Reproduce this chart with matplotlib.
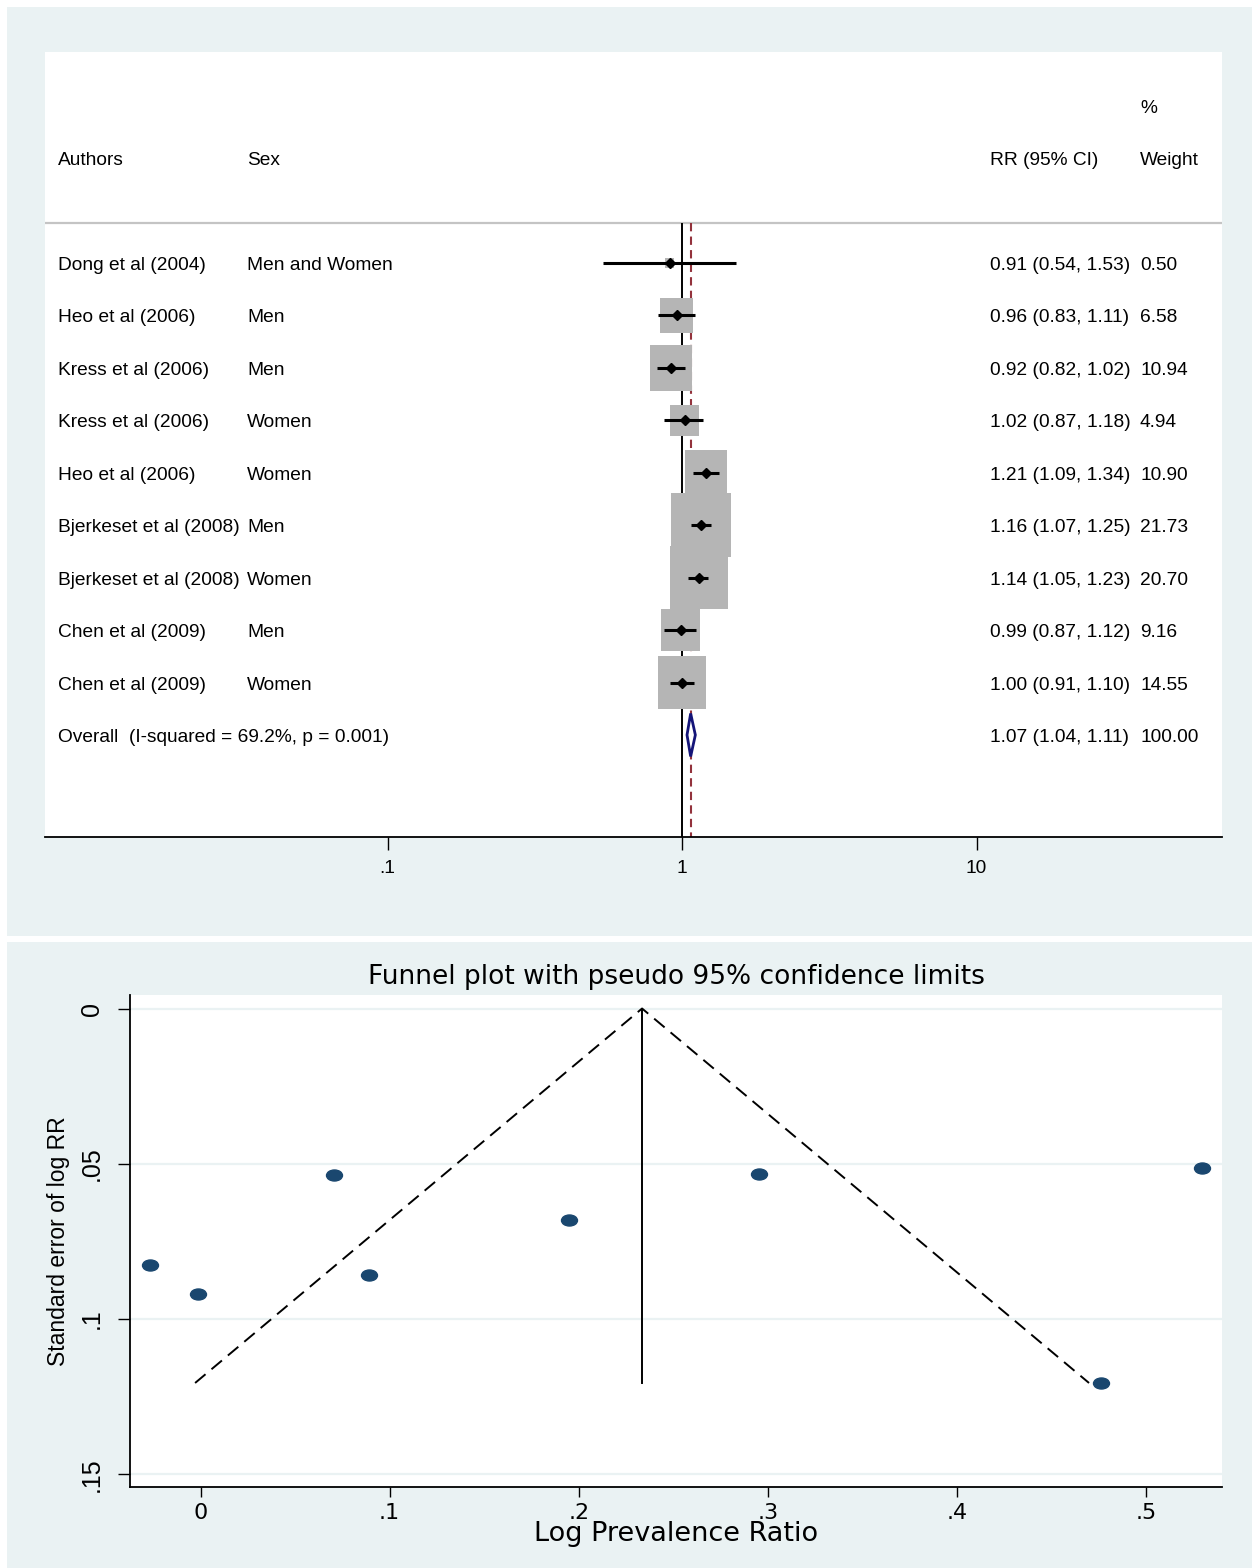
import numpy as np
import matplotlib
matplotlib.use("Agg")
import matplotlib.pyplot as plt
from matplotlib.patches import Rectangle, Polygon
from matplotlib.path import Path
from matplotlib.transforms import Affine2D, blended_transform_factory
from matplotlib.ticker import NullLocator

plt.rcParams['font.family'] = ['Liberation Sans', 'DejaVu Sans']

# ---------------- data: forest plot ----------------
authors = ["Dong et al (2004)", "Heo et al (2006)", "Kress et al (2006)",
           "Kress et al (2006)", "Heo et al (2006)", "Bjerkeset et al (2008)",
           "Bjerkeset et al (2008)", "Chen et al (2009)", "Chen et al (2009)"]
sexes = ["Men and Women", "Men", "Men", "Women", "Women", "Men", "Women",
         "Men", "Women"]
rr = [0.91, 0.96, 0.92, 1.02, 1.21, 1.16, 1.14, 0.99, 1.00]
rr_lo = [0.54, 0.83, 0.82, 0.87, 1.09, 1.07, 1.05, 0.87, 0.91]
rr_hi = [1.53, 1.11, 1.02, 1.18, 1.34, 1.25, 1.23, 1.12, 1.10]
weights = [0.50, 6.58, 10.94, 4.94, 10.90, 21.73, 20.70, 9.16, 14.55]
overall_label = "Overall  (I-squared = 69.2%, p = 0.001)"
overall_est, overall_lo, overall_hi = 1.07, 1.04, 1.11
forest_ticks = [0.1, 1, 10]
forest_ticklabels = [".1", "1", "10"]

# ---------------- data: funnel plot ----------------
funnel_x = [-0.0267, -0.0013, 0.0706, 0.0893, 0.1949, 0.2954, 0.5296, 0.4764]
funnel_se = [0.0825, 0.0918, 0.0536, 0.0858, 0.0680, 0.0533, 0.0515, 0.1206]
pooled = 0.2335
se_max = 0.1206
funnel_xticks = [0, 0.1, 0.2, 0.3, 0.4, 0.5]
funnel_xticklabels = ["0", ".1", ".2", ".3", ".4", ".5"]
funnel_yticks = [0, 0.05, 0.10, 0.15]
funnel_yticklabels = ["0", ".05", ".1", ".15"]

# ---------------- layout ----------------
W, H = 1257, 1568
BG = '#eaf2f3'
fig = plt.figure(figsize=(W / 100, H / 100), dpi=100)
fig.patch.set_facecolor('white')
fig.add_artist(Rectangle((7 / W, 1 - 936 / H), 1245 / W, 929 / H,
                         transform=fig.transFigure, facecolor=BG,
                         edgecolor='none', zorder=0))
fig.add_artist(Rectangle((7 / W, 0), 1245 / W, 1 - 942 / H,
                         transform=fig.transFigure, facecolor=BG,
                         edgecolor='none', zorder=0))

# ================= forest plot =================
ax1 = fig.add_axes([45 / W, 1 - 837 / H, 1177 / W, 785 / H])
ax1.set_facecolor('white')
ONE_PX, DEC_PX = 682.0, 294.5
ROW0, ROW_PX = 263.0, 52.44
ax1.set_xscale('log')
ax1.set_xlim(10 ** ((45 - ONE_PX) / DEC_PX), 10 ** ((1222 - ONE_PX) / DEC_PX))
ybot = (837 - ROW0) / ROW_PX
ytop = (52 - ROW0) / ROW_PX
ax1.set_ylim(ybot, ytop)
for s in ['top', 'left', 'right']:
    ax1.spines[s].set_visible(False)
ax1.spines['bottom'].set_linewidth(1.3)
ax1.set_yticks([])
ax1.set_xticks(forest_ticks)
ax1.set_xticklabels(forest_ticklabels)
ax1.xaxis.set_minor_locator(NullLocator())
ax1.tick_params(axis='x', length=9.4, width=1.0, pad=7, labelsize=13.8)

hline_y = (222.5 - ROW0) / ROW_PX
ax1.axhline(hline_y, color='#c4c4c4', lw=1.6, zorder=1)
ax1.vlines(1, hline_y, ybot, color='black', lw=1.4, zorder=1)
ax1.vlines(overall_est, hline_y, ybot, color='#93323c', lw=1.5,
           linestyles=[(0, (4, 2.5))], zorder=1)

rows = np.arange(len(rr))
for i, (r, w) in enumerate(zip(rr, weights)):
    hw = 12.7 * np.sqrt(w) / 2 / DEC_PX
    hh = 13.8 * np.sqrt(w) / 2 / ROW_PX
    x0 = r * 10 ** (-hw)
    x1 = r * 10 ** (hw)
    ax1.add_patch(Rectangle((x0, i - hh), x1 - x0, 2 * hh,
                            facecolor='#b5b5b5', edgecolor='none', zorder=2))
ax1.hlines(rows, rr_lo, rr_hi, color='black', lw=2.2, zorder=3)
ax1.plot(rr, rows, 'D', color='black', ms=5.5, zorder=4)

orow = len(rr)
hd = 21.5 / ROW_PX
ax1.add_patch(Polygon([(overall_lo, orow), (overall_est, orow - hd),
                       (overall_hi, orow), (overall_est, orow + hd)],
                      closed=True, facecolor='white', edgecolor='#141478',
                      lw=2.0, zorder=3))

tr = blended_transform_factory(ax1.transAxes, ax1.transData)
cx_auth = (58 - 45) / 1177
cx_sex = (247 - 45) / 1177
cx_rr = (990 - 45) / 1177
cx_wt = (1140 - 45) / 1177
fs = 13.8
dy = 2.5 / ROW_PX  # small downward shift of text centres
hdr = (158 - ROW0) / ROW_PX + dy
pct = (106 - ROW0) / ROW_PX + dy
ax1.text(cx_auth, hdr, "Authors", transform=tr, fontsize=fs, va='center')
ax1.text(cx_sex, hdr, "Sex", transform=tr, fontsize=fs, va='center')
ax1.text(cx_rr, hdr, "RR (95% CI)", transform=tr, fontsize=fs, va='center')
ax1.text(cx_wt, hdr, "Weight", transform=tr, fontsize=fs, va='center')
ax1.text(cx_wt, pct, "%", transform=tr, fontsize=fs, va='center')
for i in rows:
    ax1.text(cx_auth, i + dy, authors[i], transform=tr, fontsize=fs, va='center')
    ax1.text(cx_sex, i + dy, sexes[i], transform=tr, fontsize=fs, va='center')
    ax1.text(cx_rr, i + dy, f"{rr[i]:.2f} ({rr_lo[i]:.2f}, {rr_hi[i]:.2f})",
             transform=tr, fontsize=fs, va='center')
    ax1.text(cx_wt, i + dy, f"{weights[i]:.2f}", transform=tr, fontsize=fs,
             va='center')
ax1.text(cx_auth, orow + dy, overall_label, transform=tr, fontsize=fs, va='center')
ax1.text(cx_rr, orow + dy, f"{overall_est:.2f} ({overall_lo:.2f}, {overall_hi:.2f})",
         transform=tr, fontsize=fs, va='center')
ax1.text(cx_wt, orow + dy, "100.00", transform=tr, fontsize=fs, va='center')

# ================= funnel plot =================
NARROW = ['Liberation Sans Narrow', 'Liberation Sans', 'DejaVu Sans']
WIDE = ['DejaVu Sans']
ax2 = fig.add_axes([130 / W, 1 - 1487 / H, 1092 / W, 492 / H])
ax2.set_facecolor('white')
ax2.set_xlim(-0.0373, 0.5402)
ax2.set_ylim(0.1541, -0.00435)
for s in ['top', 'right']:
    ax2.spines[s].set_visible(False)
for s in ['left', 'bottom']:
    ax2.spines[s].set_linewidth(1.3)
ax2.set_yticks(funnel_yticks)
ax2.set_yticklabels(funnel_yticklabels, rotation=90, va='center',
                    family=NARROW, fontsize=18)
ax2.set_xticks(funnel_xticks)
ax2.set_xticklabels(funnel_xticklabels, family=WIDE, fontsize=16)
ax2.tick_params(axis='y', length=8.6, width=1.0, pad=10)
ax2.tick_params(axis='x', length=7.2, width=1.0, pad=4)
ax2.yaxis.grid(True, color=BG, lw=1.6)
ax2.set_axisbelow(True)

ax2.plot([pooled, pooled], [0, se_max], color='black', lw=1.4, zorder=2)
ax2.plot([pooled - 1.96 * se_max, pooled, pooled + 1.96 * se_max],
         [se_max, 0, se_max], color='black', lw=1.4,
         linestyle=(0, (7, 4)), zorder=2)

ell = Path.unit_circle().transformed(Affine2D().scale(1.45, 1.0))
ax2.plot(funnel_x, funnel_se, linestyle='none', marker=ell, ms=11.5,
         color='#1a476f', zorder=3)

ax2.set_ylabel("Standard error of log RR", family=NARROW, fontsize=16.5,
               va='center')
ax2.yaxis.set_label_coords((58 - 130) / 1092, 0.5)
ax2.set_xlabel("Log Prevalence Ratio", family=WIDE, fontsize=19.5, va='center')
ax2.xaxis.set_label_coords(0.5, (1487 - 1534) / 492)
ax2.text(0.5, (1487 - 977) / 492, "Funnel plot with pseudo 95% confidence limits",
         transform=ax2.transAxes, ha='center', va='center', family=WIDE,
         fontsize=19)

fig.savefig("out.png", dpi=100)
